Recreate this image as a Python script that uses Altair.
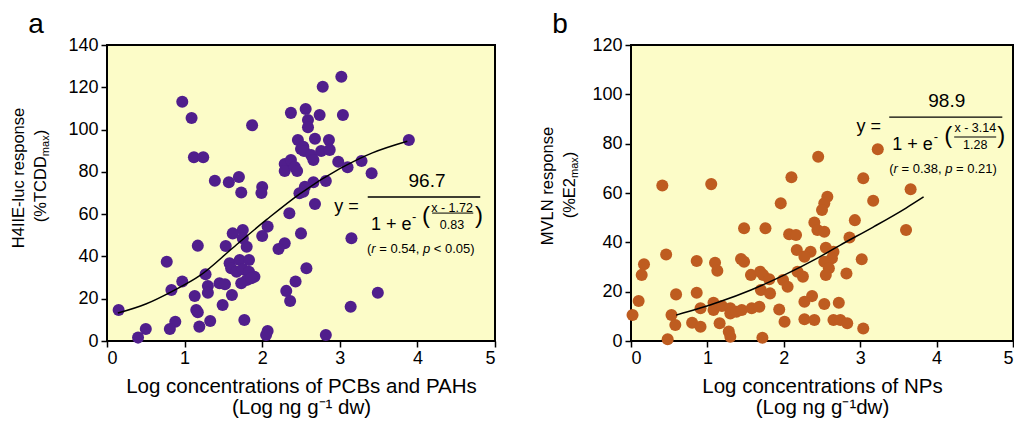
import altair as alt
import pandas as pd

FONT = "Liberation Sans"
BG = "#fcfcc8"

# ---------------- Panel a data (Log conc. PCBs+PAHs vs H4IIE-luc response) -------------
a_x = [0.97, 1.09, 1.87, 2.37, 1.12, 1.24, 1.39, 1.57, 1.70, 2.00,
       1.73, 1.99, 2.29, 2.29, 2.37, 2.42, 2.45, 2.46, 2.50, 3.02,
       2.78, 2.56, 2.74, 3.04, 2.59, 2.59, 2.68, 2.86, 2.53, 2.54,
       2.76, 2.87, 2.63, 2.66, 2.98, 3.10, 3.28, 3.41, 3.89, 2.66,
       2.82, 2.55, 2.53, 2.48, 2.35, 2.07, 2.00, 1.75, 1.62, 1.75,
       1.80, 1.17, 1.53, 2.29, 2.21, 2.50, 0.77, 1.58, 1.60, 1.71,
       1.83, 1.67, 1.75, 1.83, 1.90, 1.80, 1.73, 1.86, 1.27, 0.97,
       0.83, 1.30, 1.30, 1.45, 1.52, 1.13, 1.61, 1.49, 2.43, 2.31,
       2.36, 0.15, 1.15, 1.17, 0.88, 0.81, 0.50, 0.40, 1.19, 1.33,
       1.77, 2.07, 2.05, 2.68, 3.15, 2.57, 3.49, 3.14, 2.82]
a_y = [113.2, 105.5, 102.0, 107.9, 86.9, 86.9, 75.8, 75.1, 77.6, 72.8,
       70.2, 70.0, 83.7, 80.4, 85.6, 82.3, 80.4, 95.1, 90.8, 125.0,
       120.3, 109.7, 106.9, 106.9, 104.5, 101.1, 95.7, 95.1, 91.9, 89.9,
       89.9, 90.4, 88.0, 85.6, 84.8, 82.2, 85.1, 79.3, 95.1, 75.1,
       75.7, 73.0, 70.6, 69.9, 60.4, 54.1, 49.7, 52.5, 50.9, 48.6,
       44.6, 45.1, 44.9, 46.2, 43.5, 50.9, 37.5, 36.8, 34.4, 38.3,
       38.3, 32.8, 33.9, 32.8, 30.4, 28.9, 27.3, 29.7, 31.6, 28.1,
       24.1, 26.0, 22.8, 27.3, 26.8, 21.3, 21.8, 17.0, 28.1, 23.7,
       18.9, 14.7, 14.7, 13.6, 9.1, 5.7, 5.7, 1.6, 6.8, 9.5,
       9.9, 4.7, 2.8, 64.8, 48.6, 34.4, 22.8, 16.2, 2.8]
# fitted logistic curve
a_curve_x = [0.14, 0.50, 0.84, 1.20, 1.62, 2.06, 2.48, 3.00, 3.42, 3.87]
a_curve_y = [13.2, 17.5, 23.5, 31.0, 44.0, 57.5, 69.5, 81.5, 89.0, 94.5]

# ---------------- Panel b data (Log conc. NPs vs MVLN response) -------------
b_x = [0.41, 1.05, 2.10, 2.45, 3.23, 3.04, 3.66, 1.96, 2.40, 2.44,
       1.48, 1.76, 2.07, 2.16, 2.17, 2.35, 2.27, 0.46, 0.86, 1.10,
       1.13, 1.44, 1.48, 0.17, 0.14, 1.57, 1.69, 1.73, 1.81, 2.18,
       2.25, 1.99, 2.05, 1.70, 1.82, 0.86, 0.59, 0.10, 2.37, 2.27,
       1.08, 1.08, 1.19, 1.30, 1.30, 1.38, 1.45, 0.91, 1.58, 1.68,
       1.94, 0.02, 0.53, 0.58, 0.80, 0.91, 1.16, 2.01, 2.27, 2.40,
       1.28, 1.30, 1.72, 0.48, 2.57, 2.53, 2.50, 3.17, 2.53, 2.93,
       3.60, 2.86, 2.55, 2.65, 2.63, 2.53, 3.02, 2.59, 2.55, 2.82,
       2.53, 2.72, 2.65, 2.74, 2.83, 3.04]
b_y = [63.0, 63.6, 66.4, 74.7, 77.7, 66.0, 61.5, 55.8, 48.0, 45.0,
       45.7, 45.7, 43.3, 43.0, 36.9, 36.2, 34.2, 35.1, 32.4, 31.7,
       28.5, 33.2, 32.1, 31.1, 26.8, 26.8, 28.1, 26.8, 25.0, 28.1,
       26.1, 24.7, 22.0, 20.7, 19.3, 19.6, 18.9, 16.2, 18.2, 15.9,
       15.5, 12.6, 14.2, 13.3, 11.2, 11.9, 12.6, 13.3, 13.3, 13.9,
       12.8, 10.5, 10.5, 6.5, 7.4, 5.8, 7.2, 7.8, 8.8, 8.5,
       3.8, 1.7, 1.3, 0.7, 58.5, 55.8, 53.1, 56.9, 44.3, 49.0,
       45.0, 42.0, 37.8, 36.2, 33.5, 32.1, 33.1, 29.5, 26.8, 27.4,
       15.0, 15.5, 8.5, 8.5, 7.2, 5.1]
b_curve_x = [0.59, 1.15, 1.57, 2.01, 2.44, 2.74, 3.17, 3.60, 3.83]
b_curve_y = [10.5, 15.8, 20.7, 26.8, 33.6, 38.9, 46.2, 53.9, 58.4]

# equation texts
a_eq = {"num": "96.7", "top": "x - 1.72", "bot": "0.83", "stat": ["(", "r", "= 0.54,", "p", "< 0.05)"]}
b_eq = {"num": "98.9", "top": "x - 3.14", "bot": "1.28", "stat": ["(", "r", "= 0.38,", "p", "= 0.21)"]}

X_TICKS = [0, 1, 2, 3, 4, 5]
YT = 16.5   # y-title font size
H = 296     # plot height


def one_row(**kw):
    return pd.DataFrame({k: [v] for k, v in kw.items()})


def panel(px, py, cx, cy, color, ymax, xtitle, ytitle1, ytitle2, sub_w,
          letter, eq, anchor, bar, small_bar, ylay, off, w):
    pts = pd.DataFrame({"x": px, "y": py})
    crv = pd.DataFrame({"x": cx, "y": cy})
    xs = alt.Scale(domain=[0, 5], nice=False, range=[off, off + w])
    ys = alt.Scale(domain=[0, ymax], nice=False, range=[H, 0])
    xaxis = alt.Axis(orient="bottom", values=X_TICKS, format="d", tickSize=6, tickWidth=1.5,
                     tickColor="black", domain=False, grid=False, labelFont=FONT,
                     labelFontSize=18, labelColor="black", labelPadding=2, title=xtitle,
                     titleFont=FONT, titleFontSize=20.5, titleFontWeight="normal",
                     titleColor="black", titlePadding=9, titleLineHeight=21)
    yaxis = alt.Axis(orient="left", offset=-off, values=list(range(0, ymax + 1, 20)),
                     tickSize=6, tickWidth=1.5, tickColor="black", domain=False, grid=False,
                     labelFont=FONT, labelFontSize=18, labelColor="black", labelPadding=3,
                     title=None)

    bg = alt.Chart(one_row(k=0)).mark_rect(fill=BG, stroke="black", strokeWidth=2).encode(
        x=alt.value(off), x2=alt.value(off + w), y=alt.value(0), y2=alt.value(H))
    scatter = alt.Chart(pts).mark_circle(size=145, opacity=1, color=color).encode(
        x=alt.X("x:Q", scale=xs, axis=xaxis),
        y=alt.Y("y:Q", scale=ys, axis=yaxis),
    )
    curve = alt.Chart(crv).mark_line(color="black", strokeWidth=1.5, interpolate="monotone").encode(
        x="x:Q", y="y:Q")

    layers = [bg, scatter, curve]

    # fraction bars
    layers.append(alt.Chart(one_row(x=bar[0], x2=bar[1], y=bar[2])).mark_rule(
        color="black", strokeWidth=1.3).encode(x="x:Q", x2="x2:Q", y="y:Q"))
    layers.append(alt.Chart(one_row(x=small_bar[0], x2=small_bar[1], y=small_bar[2])).mark_rule(
        color="black", strokeWidth=1).encode(x="x:Q", x2="x2:Q", y="y:Q"))

    ax, ay = anchor
    dxs = eq["dx"]
    pieces = [
        (eq["num"], dxs[0], -10, 19, "center", "normal"),
        ("y =", dxs[1], 15, 18, "center", "normal"),
        ("1 + e", dxs[2], 33, 18, "left", "normal"),
        ("-", dxs[3], 24, 13, "left", "normal"),
        ("(", dxs[4], 26, 24, "left", "normal"),
        (")", dxs[5], 26, 24, "left", "normal"),
        (eq["top"], dxs[6], 15, 12.5, "center", "normal"),
        (eq["bot"], dxs[6], 32, 12.5, "center", "normal"),
    ]
    s0 = dxs[7]
    stat_off = [0, 4.33, 12.27, 56.0, 66.8]
    for i, t in enumerate(eq["stat"]):
        pieces.append((t, s0 + stat_off[i], 55.5, 13, "left", "italic" if i in (1, 3) else "normal"))
    for t, dx, dy, fs, al, st in pieces:
        layers.append(alt.Chart(one_row(x=ax, y=ay, t=t)).mark_text(
            dx=dx, dy=dy, fontSize=fs, align=al, baseline="alphabetic", font=FONT,
            fontStyle=st, color="black").encode(x="x:Q", y="y:Q", text="t:N"))

    # y axis title (two lines, with subscript)
    l1x, l2x, l1y, l2y = ylay
    layers.append(alt.Chart(one_row(t=ytitle1)).mark_text(
        angle=270, align="center", baseline="alphabetic", fontSize=YT, font=FONT, color="black"
    ).encode(x=alt.value(off + l1x), y=alt.value(l1y), text="t:N"))
    main_w = ytitle2[2] * YT / 17
    total = main_w + sub_w + 5.5
    start = l2y + total / 2
    layers.append(alt.Chart(one_row(t=ytitle2[0])).mark_text(
        angle=270, align="left", baseline="alphabetic", fontSize=YT, font=FONT, color="black"
    ).encode(x=alt.value(off + l2x), y=alt.value(start), text="t:N"))
    layers.append(alt.Chart(one_row(t="max")).mark_text(
        angle=270, align="left", baseline="alphabetic", fontSize=11, font=FONT, color="black"
    ).encode(x=alt.value(off + l2x + 3), y=alt.value(start - main_w), text="t:N"))
    layers.append(alt.Chart(one_row(t=ytitle2[1])).mark_text(
        angle=270, align="left", baseline="alphabetic", fontSize=YT, font=FONT, color="black"
    ).encode(x=alt.value(off + l2x), y=alt.value(start - main_w - sub_w), text="t:N"))

    # panel letter
    layers.append(alt.Chart(one_row(t=letter)).mark_text(
        align="center", baseline="alphabetic", fontSize=28, font=FONT, color="black"
    ).encode(x=alt.value(off - 71), y=alt.value(-12), text="t:N"))

    return alt.layer(*layers)


a_eq["dx"] = [3, -77.5, -53, -12, -2, 51, 28, -57]
b_eq["dx"] = [1, -77, -53.5, -12, -1.5, 51.5, 29.5, -56.5]

pa = panel(a_x, a_y, a_curve_x, a_curve_y, "#501e8c", 140,
           ["Log concentrations of PCBs and PAHs", "(Log ng g\u207b\u00b9 dw)"],
           "H4IIE-luc response", ("(%TCDD", ")", 68.0), 20.8, "a", a_eq,
           (4.085, 68.1), (3.36, 4.81, 68.1), (4.19, 4.72, 60.5),
           (-83, -61, 133, 131), 0, 388)
pb = panel(b_x, b_y, b_curve_x, b_curve_y, "#be5c20", 120,
           ["Log concentrations of NPs", "(Log ng g\u207b\u00b9dw)"],
           "MVLN response", ("(%E2", ")", 41.6), 20.8, "b", b_eq,
           (4.12, 90.8), (3.38, 4.86, 90.8), (4.23, 4.78, 82.7),
           (-78, -56, 141, 140), 524, 382)

chart = alt.layer(pa, pb).resolve_scale(
    x="independent", y="independent"
).resolve_axis(
    x="independent", y="independent"
).properties(
    width=906, height=H,
    autosize=alt.AutoSizeParams(type="none"),
    padding={"left": 99, "top": 37, "right": 1, "bottom": 77},
).configure_view(stroke="transparent")

chart.save("out.html", embed_options={"renderer": "svg", "actions": False})
